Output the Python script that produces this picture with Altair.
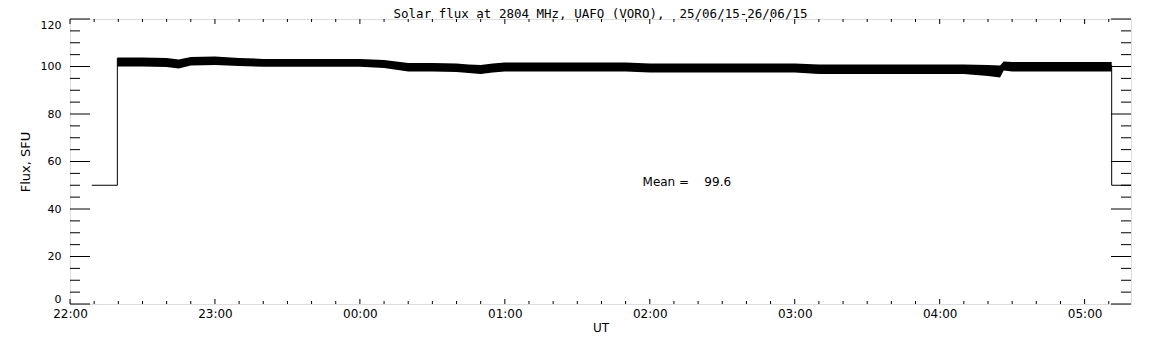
import altair as alt
import pandas as pd

# ---- data (times UT, flux in SFU) ----
band_time = ["22:19:36", "22:20", "22:30", "22:40", "22:45", "22:50", "23:00", "23:10",
             "23:20", "23:30", "23:40", "23:50", "00:00", "00:10", "00:20", "00:30",
             "00:40", "00:45", "00:50", "00:55", "01:00", "01:10", "01:20", "01:30",
             "01:40", "01:50", "02:00", "02:10", "02:20", "02:30", "02:40", "02:50",
             "03:00", "03:10", "03:20", "03:30", "03:40", "03:50", "04:00", "04:10",
             "04:20", "04:25", "04:26:30", "04:30", "04:40", "04:50", "05:00", "05:10",
             "05:11:12"]
band_hi = [103.8, 103.8, 103.8, 103.6, 102.9, 104.0, 104.2, 103.6,
           103.2, 103.2, 103.2, 103.2, 103.2, 102.7, 101.5, 101.5,
           101.3, 100.8, 100.6, 101.3, 101.7, 101.7, 101.7, 101.7,
           101.7, 101.7, 101.3, 101.3, 101.3, 101.3, 101.3, 101.3,
           101.3, 100.8, 100.8, 100.8, 100.8, 100.8, 100.8, 100.8,
           100.6, 100.4, 102.1, 101.9, 101.9, 101.9, 101.9, 101.9,
           101.9]
band_lo = [100.0, 100.0, 100.0, 99.8, 99.2, 100.4, 100.6, 100.2,
           99.9, 99.9, 99.9, 99.9, 99.9, 99.4, 97.9, 97.9,
           97.7, 97.3, 96.8, 97.5, 97.9, 97.9, 97.9, 97.9,
           97.9, 97.9, 97.5, 97.5, 97.5, 97.5, 97.5, 97.5,
           97.5, 96.8, 96.8, 96.8, 96.8, 96.8, 96.8, 96.8,
           96.0, 95.4, 98.3, 97.9, 97.9, 97.9, 97.9, 97.9,
           97.9]

edge_time = ["22:09", "22:19:36", "22:19:36", "05:11:12", "05:11:12", "05:20"]
edge_flux = [50, 50, 103.5, 100.5, 50, 50]
edge_part = ["start", "start", "start", "end", "end", "end"]

mean_value = 99.6
mean_label_time = "01:57"
mean_label_flux = 51.4

x_major = ["22:00", "23:00", "00:00", "01:00", "02:00", "03:00", "04:00", "05:00"]
x_minor = ["22:10", "22:20", "22:30", "22:40", "22:50",
           "23:10", "23:20", "23:30", "23:40", "23:50",
           "00:10", "00:20", "00:30", "00:40", "00:50",
           "01:10", "01:20", "01:30", "01:40", "01:50",
           "02:10", "02:20", "02:30", "02:40", "02:50",
           "03:10", "03:20", "03:30", "03:40", "03:50",
           "04:10", "04:20", "04:30", "04:40", "04:50",
           "05:10"]
y_major = [0, 20, 40, 60, 80, 100, 120]
y_minor = [5, 10, 15, 25, 30, 35, 45, 50, 55, 65, 70, 75, 85, 90, 95, 105, 110, 115]

X_END = "05:19:12"


def minutes(s):
    p = [int(v) for v in s.split(":")]
    while len(p) < 3:
        p.append(0)
    m = p[0] * 60 + p[1] + p[2] / 60.0 - 22 * 60
    return m % 1440


W, H = 1061, 285
FONT = "DejaVu Sans"
NB = "\u00a0"

xscale = alt.Scale(domain=[0, minutes(X_END)], nice=False, zero=False)
yscale = alt.Scale(domain=[0, 120], nice=False)

band = pd.DataFrame({"t": [minutes(s) for s in band_time], "hi": band_hi, "lo": band_lo})
edges = pd.DataFrame({"t": [minutes(s) for s in edge_time], "flux": edge_flux,
                      "part": edge_part, "order": list(range(len(edge_time)))})
xmaj = pd.DataFrame({"t": [minutes(s) for s in x_major]})
xmin = pd.DataFrame({"t": [minutes(s) for s in x_minor]})
ymaj = pd.DataFrame({"v": y_major})
ymin = pd.DataFrame({"v": y_minor})
mean_df = pd.DataFrame({"t": [minutes(mean_label_time)], "flux": [mean_label_flux],
                        "label": ["Mean =" + NB * 4 + "%.1f" % mean_value]})

label_expr = ("(floor(datum.value/60+22)%24 < 10 ? '0' : '') + "
              "floor(datum.value/60+22)%24 + ':00'")

x_axis = alt.Axis(values=[minutes(s) for s in x_major], labelExpr=label_expr,
                  ticks=False, domain=False, grid=False, labelPadding=4,
                  labelFlush=False, labelOverlap=False,
                  labelFont=FONT, labelFontSize=12, labelColor="black",
                  title="UT", titleFont=FONT, titleFontSize=12,
                  titleFontWeight="normal", titleColor="black", titlePadding=3)
y_axis = alt.Axis(values=y_major, ticks=False, domain=False, grid=False,
                  labelPadding=9, labelFlush=True, labelOverlap=False,
                  labelFont=FONT, labelFontSize=11, labelColor="black",
                  title="Flux, SFU", titleFont=FONT, titleFontSize=13,
                  titleFontWeight="normal", titleColor="black", titlePadding=8)

base_band = alt.Chart(band).mark_area(color="black", clip=True, opacity=1).encode(
    x=alt.X("t:Q", scale=xscale, axis=x_axis),
    y=alt.Y("hi:Q", scale=yscale, axis=y_axis),
    y2="lo:Q",
)

edge_line = alt.Chart(edges).mark_line(color="black", strokeWidth=1, clip=True).encode(
    x=alt.X("t:Q", scale=xscale),
    y=alt.Y("flux:Q", scale=yscale),
    detail="part:N",
    order="order:Q",
)

mean_text = alt.Chart(mean_df).mark_text(align="left", baseline="middle", font=FONT,
                                         fontSize=12, color="black").encode(
    x=alt.X("t:Q", scale=xscale),
    y=alt.Y("flux:Q", scale=yscale),
    text="label:N",
)


def xticks(df, length):
    bottom = alt.Chart(df).mark_rule(color="black", strokeWidth=1).encode(
        x=alt.X("t:Q", scale=xscale), y=alt.value(H), y2=alt.value(H - length))
    top = alt.Chart(df).mark_rule(color="black", strokeWidth=1).encode(
        x=alt.X("t:Q", scale=xscale), y=alt.value(0), y2=alt.value(length))
    return [bottom, top]


def yticks(df, length):
    left = alt.Chart(df).mark_rule(color="black", strokeWidth=1).encode(
        y=alt.Y("v:Q", scale=yscale), x=alt.value(0), x2=alt.value(length))
    right = alt.Chart(df).mark_rule(color="black", strokeWidth=1).encode(
        y=alt.Y("v:Q", scale=yscale), x=alt.value(W), x2=alt.value(W - length))
    return [left, right]


layers = [base_band, edge_line, mean_text]
layers += xticks(xmaj, 5) + xticks(xmin, 3)
layers += yticks(ymaj, 20) + yticks(ymin, 10)

title_text = "Solar flux at 2804 MHz, UAFO (VORO)," + NB * 2 + "25/06/15-26/06/15"

chart = alt.layer(*layers).properties(
    width=W, height=H,
    title=alt.TitleParams(title_text,
                          font="DejaVu Sans Mono", fontSize=12.5, fontWeight="normal",
                          color="black", anchor="middle", frame="group", offset=-2),
    autosize=alt.AutoSizeParams(type="none"),
    padding={"left": 62, "top": 11, "right": 13, "bottom": 41},
).configure_view(stroke="black", strokeWidth=1, fill="white").configure(background="white")

chart.save("out.html", embed_options={"renderer": "svg", "actions": False})
